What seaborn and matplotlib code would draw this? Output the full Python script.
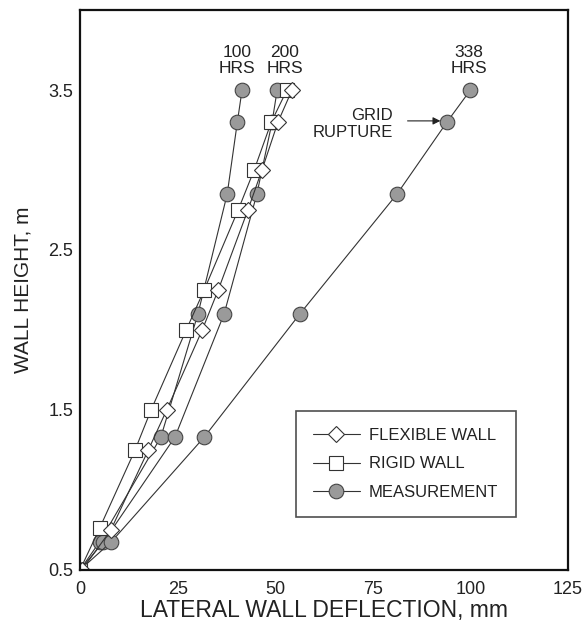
import matplotlib
matplotlib.use("Agg")
import matplotlib.pyplot as plt
from matplotlib.lines import Line2D
import seaborn as sns
import pandas as pd

# ---- data ----
rigid_x = [0.0, 5.0, 14.1, 18.2, 27.2, 31.8, 40.5, 44.6, 49.0, 53.0]
rigid_h = [0.5, 0.76, 1.25, 1.5, 2.0, 2.25, 2.75, 3.0, 3.3, 3.5]
flex_x = [0.5, 7.9, 17.5, 22.2, 31.3, 35.4, 43.0, 46.6, 50.7, 54.3]
flex_h = [0.5, 0.75, 1.25, 1.5, 2.0, 2.25, 2.75, 3.0, 3.3, 3.5]
meas_h = [0.5, 0.675, 1.33, 2.1, 2.85, 3.3, 3.5]
meas_100_x = [0.0, 5.0, 20.7, 30.2, 37.7, 40.3, 41.5]
meas_200_x = [0.0, 6.0, 24.3, 36.9, 45.3, 49.2, 50.5]
meas_338_x = [0.0, 8.0, 31.8, 56.3, 81.2, 94.0, 100.0]
time_labels = ["100\nHRS", "200\nHRS", "338\nHRS"]
time_label_x = [40.3, 52.5, 99.6]
x_ticks = [0, 25, 50, 75, 100, 125]
y_ticks = [0.5, 1.5, 2.5, 3.5]
legend_labels = ["FLEXIBLE WALL", "RIGID WALL", "MEASUREMENT"]

sns.set_theme(style="white")
plt.rcParams["font.family"] = ["Liberation Sans", "DejaVu Sans"]

fig = plt.figure(figsize=(5.82, 6.27), dpi=100)
ax = fig.add_axes([0.1375, 0.091, 0.8385, 0.893])

line_kw = dict(color="#333333", linewidth=0.8, estimator=None, sort=False, ax=ax, legend=False)
meas_style = dict(marker="o", markersize=10.5, markerfacecolor="#9a9a9a",
                  markeredgecolor="#444444", markeredgewidth=0.8)
rigid_style = dict(marker="s", markersize=10, markerfacecolor="white",
                   markeredgecolor="#333333", markeredgewidth=0.8)
flex_style = dict(marker="D", markersize=8.5, markerfacecolor="white",
                  markeredgecolor="#333333", markeredgewidth=0.8)

for xs in [meas_100_x, meas_200_x, meas_338_x]:
    df = pd.DataFrame({"x": xs, "h": meas_h})
    sns.lineplot(data=df, x="x", y="h", **line_kw, **meas_style)

df_r = pd.DataFrame({"x": rigid_x, "h": rigid_h})
sns.lineplot(data=df_r, x="x", y="h", **line_kw, **rigid_style)
df_f = pd.DataFrame({"x": flex_x, "h": flex_h})
sns.lineplot(data=df_f, x="x", y="h", **line_kw, **flex_style)

ax.set_xlim(0, 125)
ax.set_ylim(0.5, 4.0)
ax.set_xticks(x_ticks)
ax.set_xticklabels([str(t) for t in x_ticks])
ax.set_yticks(y_ticks)
ax.set_yticklabels([f"{t:.1f}" for t in y_ticks])
ax.tick_params(axis="both", direction="in", length=6, width=0.8, color="#555555",
               labelsize=13, labelcolor="#222222")
ax.tick_params(axis="x", pad=8)
ax.tick_params(axis="y", pad=5)
for s in ax.spines.values():
    s.set_color("#111111")
    s.set_linewidth(1.6)

ax.set_xlabel("LATERAL WALL DEFLECTION, mm", fontsize=16.5, color="#222222", labelpad=1)
ax.set_ylabel("WALL HEIGHT, m", fontsize=15, color="#222222", labelpad=11)

# time annotations
for lx, lab in zip(time_label_x, time_labels):
    ax.text(lx, 3.585, lab, ha="center", va="bottom", fontsize=12.5,
            color="#222222", linespacing=1.15)
ax.text(80.2, 3.29, "GRID\nRUPTURE", ha="right", va="center", fontsize=12,
        color="#222222", linespacing=1.15)
ax.annotate("", xy=(92.3, 3.307), xytext=(83.9, 3.307),
            arrowprops=dict(arrowstyle="-|>", color="#222222", lw=0.8,
                            mutation_scale=11, shrinkA=0, shrinkB=0))

handles = [Line2D([], [], color="#333333", linewidth=0.8, **flex_style),
           Line2D([], [], color="#333333", linewidth=0.8, **rigid_style),
           Line2D([], [], color="#333333", linewidth=0.8, **meas_style)]
leg = ax.legend(handles, legend_labels, loc="lower right",
                bbox_to_anchor=(0.893, 0.094), fontsize=12, frameon=True,
                fancybox=False, edgecolor="#222222", borderpad=1.05,
                handlelength=2.8, labelspacing=0.8, handletextpad=0.55,
                borderaxespad=0)
leg.get_frame().set_linewidth(1.2)
for t in leg.get_texts():
    t.set_color("#222222")

fig.savefig("out.png", dpi=100)
